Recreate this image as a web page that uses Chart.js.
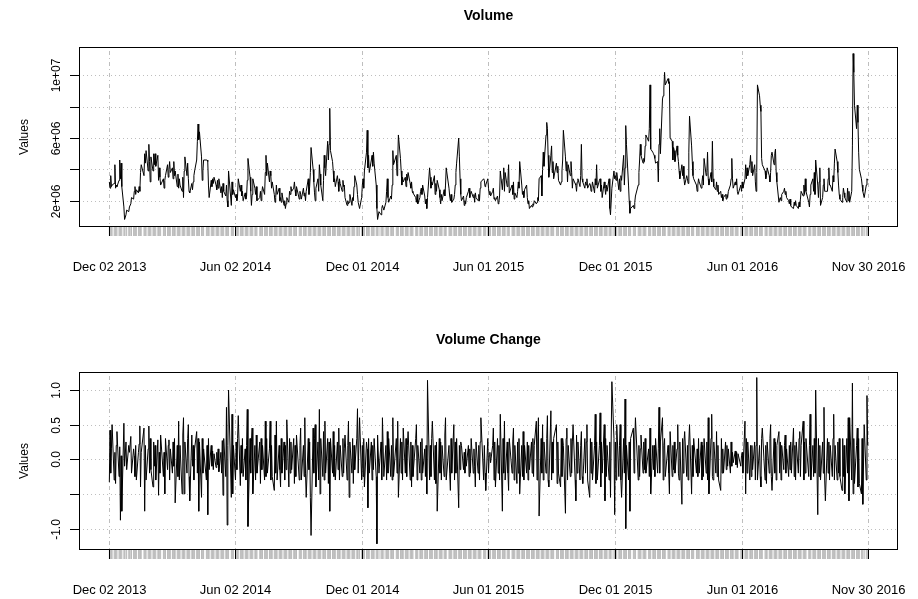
<!DOCTYPE html>
<html><head><meta charset="utf-8">
<script src="https://cdn.jsdelivr.net/npm/chart.js@4.4.0/dist/chart.umd.min.js"></script>
<style>
html,body{margin:0;padding:0;background:#fff;overflow:hidden;width:918px;height:599px}
canvas{display:block;position:absolute;left:0}
#c1{top:0}
#c2{top:300px}
</style></head><body>
<canvas id="c1" width="918" height="300"></canvas>
<canvas id="c2" width="918" height="299"></canvas>
<script>
// ---- data (volume in millions of shares; volume change = daily change) ----
const volume = [
3.2,2.8,3.6,2.9,3.0,3.1,4.3,2.8,3.0,2.9,
3.3,4.6,3.4,4.4,2.9,1.6,0.8,1.1,1.4,1.3,
1.6,1.8,2.2,2.1,2.6,2.9,2.4,2.7,2.5,2.9,
2.6,3.8,4.3,3.6,5.0,4.4,5.2,3.9,5.6,4.5,
3.2,4.8,3.9,5.0,4.3,5.0,4.2,4.9,3.3,4.1,
3.5,3.0,3.4,2.8,3.3,3.6,4.3,3.5,4.0,4.5,
3.8,4.1,3.4,4.5,3.6,3.9,2.9,3.7,2.8,3.4,
3.0,2.6,3.5,2.2,3.9,4.8,3.6,4.4,3.4,2.6,
2.5,3.1,2.7,3.2,3.6,3.9,4.6,5.8,6.9,5.9,
6.4,4.8,3.3,3.9,4.6,4.6,4.6,4.5,3.0,2.2,
3.3,2.9,3.4,3.1,3.5,3.0,2.7,3.3,2.8,3.4,
2.5,2.9,2.2,3.1,2.6,2.3,3.0,2.0,1.6,3.9,
1.7,3.2,2.4,2.7,2.2,2.4,2.0,2.3,3.4,2.6,
3.0,2.3,2.6,2.0,2.5,2.1,2.3,3.3,4.7,3.5,
2.6,1.7,2.4,3.4,2.8,2.4,2.9,2.0,2.2,2.6,
2.0,2.5,2.9,2.4,3.8,4.9,3.6,4.4,3.2,3.9,
3.6,2.8,3.2,2.4,1.9,2.2,3.0,2.4,2.8,2.0,
2.2,1.9,2.5,1.7,2.0,1.5,1.8,2.2,1.9,2.6,
2.4,2.9,2.6,2.8,3.2,2.7,2.3,2.9,2.1,2.6,
2.4,2.1,2.8,2.3,2.5,2.0,2.6,3.4,2.4,2.9,
3.8,5.4,4.0,3.2,2.5,2.0,2.8,3.4,2.6,4.3,
3.7,3.0,2.0,3.3,4.9,4.1,3.6,5.8,4.6,5.6,
7.9,5.2,4.5,3.9,3.2,3.4,2.9,3.6,3.2,2.6,
3.4,3.1,2.6,3.3,2.9,3.0,2.2,1.7,2.0,1.8,
1.9,2.4,1.7,2.2,2.0,2.9,3.6,3.0,2.4,1.9,
1.5,2.2,3.0,3.4,2.8,3.9,5.1,6.5,4.1,4.9,
3.8,4.6,4.9,4.2,5.1,4.4,3.0,1.5,0.8,1.3,
1.1,1.5,1.7,1.4,1.9,2.6,3.4,2.2,1.9,2.3,
2.1,3.0,5.2,4.3,4.9,3.6,4.4,6.2,4.7,3.9,
3.0,3.5,3.2,3.5,2.9,3.7,3.3,3.8,3.1,2.8,
3.2,2.6,2.5,2.2,1.9,2.4,1.8,2.2,2.6,2.8,
2.4,3.0,2.3,1.8,2.1,1.5,2.2,4.1,3.5,2.8,
3.2,3.0,3.6,2.4,3.1,2.6,3.3,2.7,2.2,1.8,
2.4,2.0,2.7,2.3,3.0,4.1,2.8,2.3,2.0,2.4,
1.9,2.1,2.4,3.0,3.8,4.4,6.0,4.8,3.4,2.4,
2.0,2.3,1.7,2.0,1.8,2.2,2.6,2.8,2.2,2.4,
2.6,2.2,2.4,1.9,2.5,2.2,2.0,2.4,2.0,2.8,
3.2,3.4,3.3,2.9,3.0,3.4,2.8,2.4,2.6,2.3,
2.6,2.8,2.1,2.2,2.0,2.3,1.8,1.9,2.3,3.9,
2.7,3.4,4.1,2.6,3.8,2.9,3.3,4.3,2.5,3.0,
2.4,3.2,2.1,2.5,2.2,2.6,3.2,2.8,4.5,3.0,
2.4,2.6,2.2,2.7,3.0,2.2,1.8,2.0,1.5,1.7,
1.6,1.8,1.7,2.0,1.8,1.9,2.2,2.0,3.4,3.6,
2.3,4.0,5.1,4.2,6.2,7.0,6.6,4.9,3.5,4.9,
5.5,3.8,4.5,3.4,4.4,3.8,4.2,3.3,3.0,3.2,
3.9,4.6,6.5,4.8,3.9,4.5,3.2,4.3,3.6,4.5,
3.8,2.8,3.4,3.1,3.0,2.6,3.2,3.4,2.9,3.6,
5.6,3.4,3.2,2.8,3.2,3.0,3.4,2.8,3.1,3.0,
2.6,2.8,3.2,2.5,3.4,3.0,4.3,2.8,3.3,3.4,
2.6,3.0,2.2,3.2,2.8,2.4,3.0,2.6,3.4,1.5,
1.1,2.8,3.9,3.4,3.6,3.3,3.8,2.7,3.4,2.6,
3.6,3.3,4.9,3.0,4.1,6.8,5.6,3.0,2.0,1.2,
1.5,1.7,1.5,1.9,2.3,3.0,3.8,4.6,5.6,4.9,
4.4,4.7,4.5,5.5,6.2,5.8,6.6,9.4,5.3,5.1,
5.0,4.9,4.7,4.4,4.5,3.2,5.6,6.6,5.0,8.5,
8.7,9.2,10.2,9.4,9.8,9.5,9.6,6.0,5.8,4.6,
5.4,5.2,4.5,5.5,4.9,4.5,3.9,3.4,4.3,3.6,
4.2,3.4,3.0,3.6,3.4,3.1,5.1,7.4,5.5,4.5,
3.6,3.4,3.0,2.6,3.0,3.4,3.2,2.8,3.2,3.6,
3.0,4.7,3.6,3.8,5.1,3.4,3.0,3.8,3.2,5.8,
3.4,2.9,2.7,3.2,2.6,3.0,2.4,2.6,2.2,2.4,
2.0,2.2,2.4,2.1,2.4,2.2,2.6,3.0,3.4,4.7,
3.4,2.8,3.2,3.0,3.4,2.6,2.4,3.0,2.6,3.2,
2.8,3.4,4.3,3.4,4.1,3.6,4.3,4.9,3.8,4.5,
3.6,4.3,3.2,2.6,3.8,9.4,8.7,8.1,7.7,4.7,
4.3,3.9,3.4,3.6,4.1,3.6,3.2,3.8,4.9,5.1,
4.3,5.0,5.3,3.8,3.2,1.9,2.1,2.2,2.0,2.4,
2.6,2.8,2.4,2.6,2.2,2.0,1.8,2.1,1.7,1.6,
1.5,1.9,1.7,2.0,1.7,1.5,1.9,1.6,2.1,2.6,
2.3,3.0,2.4,3.4,2.6,1.9,1.6,2.4,3.0,3.4,
2.6,3.8,2.4,4.6,3.0,2.2,3.2,4.1,1.7,2.2,
3.0,3.4,2.6,2.6,2.6,3.4,4.1,3.0,3.0,2.6,
3.6,3.2,4.4,5.3,4.5,3.8,3.0,2.4,2.1,1.9,
2.2,2.8,2.5,2.2,1.9,2.8,2.0,2.6,1.9,2.6,
5.5,11.4,10.2,8.1,6.6,8.1,7.0,5.1,4.0,3.4,
3.0,2.6,2.2,3.0,3.4,3.3
];
const volumeChange = [
-0.33,0.42,-0.2,0.15,0.5,-0.3,0.1,-0.35,0.2,0.4,
-0.25,0.18,-0.88,0.05,-0.75,0.52,-0.1,0.25,-0.15,0.2,
0.1,0.33,-0.2,0.15,0.05,-0.25,0.2,-0.3,0.1,0.22,
0.48,-0.4,0.1,0.45,-0.75,0.2,-0.3,0.15,0.48,-0.2,
0.3,-0.15,-0.4,0.25,-0.1,0.2,-0.3,0.28,-0.52,0.1,
-0.2,0.35,-0.25,0.1,-0.5,0.3,-0.15,0.2,0.28,-0.3,
0.15,-0.2,0.25,-0.1,0.3,-0.63,0.2,-0.25,0.55,-0.3,
0.2,-0.5,0.35,0.6,-0.5,0.25,-0.2,0.3,0.5,-0.25,
-0.6,0.35,-0.1,0.2,-0.3,0.15,0.4,-0.2,0.3,-0.75,
0.25,-0.55,0.3,-0.2,0.15,-0.3,0.2,-0.8,0.3,-0.15,
0.2,-0.1,0.12,-0.15,0.08,-0.12,0.1,-0.08,0.15,-0.18,
0.1,-0.2,0.27,-0.52,0.3,-0.25,0.75,-0.95,0.2,1.0,
-0.55,0.65,-0.5,0.2,-0.3,0.25,-0.15,0.3,0.63,-0.38,
0.2,-0.2,0.3,-0.25,0.15,-0.3,0.2,0.72,-0.97,0.3,
-0.2,0.25,0.45,-0.5,0.2,-0.3,0.35,-0.2,0.25,-0.35,
0.3,-0.15,0.2,-0.3,0.55,-0.25,0.3,-0.2,0.15,0.55,
-0.3,0.2,-0.25,-0.45,0.35,-0.2,0.55,-0.3,0.2,-0.15,
-0.4,0.3,-0.2,0.25,-0.3,0.2,-0.15,0.57,-0.4,0.3,
-0.2,0.25,-0.15,0.3,-0.35,0.2,-0.25,0.35,-0.3,0.2,
0.45,-0.3,0.2,-0.25,0.6,-0.2,-0.55,0.3,-0.15,0.25,
-0.55,-1.1,0.45,-0.2,0.3,0.5,-0.4,0.25,-0.3,0.72,
-0.5,0.3,-0.25,0.4,-0.3,0.55,-0.2,0.3,-0.35,0.25,
-0.75,0.3,-0.2,0.4,-0.25,0.2,-0.3,0.25,-0.15,0.45,
-0.3,0.2,-0.25,0.3,-0.2,0.15,0.35,-0.3,0.2,0.55,
-0.55,0.25,-0.2,0.3,-0.35,0.2,-0.15,0.3,0.73,-0.2,
0.6,-0.3,0.2,-0.25,0.3,-0.4,0.25,0.15,-0.7,0.3,
-0.2,0.25,-0.3,0.2,-0.15,0.3,-0.25,-1.22,0.35,-0.2,
0.25,-0.3,0.6,-0.25,0.2,-0.3,0.4,-0.2,0.3,-0.25,
0.2,-0.3,0.6,-0.25,0.3,-0.2,0.55,-0.55,0.3,-0.2,
0.25,-0.3,0.45,-0.2,0.3,-0.25,0.2,0.4,-0.3,0.25,
-0.4,0.2,-0.25,0.3,0.5,-0.3,0.2,-0.2,0.25,-0.3,
0.3,-0.2,0.15,-0.25,0.2,-0.5,1.14,-0.3,0.2,-0.25,
0.3,0.55,-0.3,0.2,-0.35,0.25,-0.75,0.3,-0.2,0.25,
-0.3,0.2,-0.25,0.35,0.6,-0.3,0.2,-0.2,-0.45,0.3,
-0.2,0.5,-0.3,0.25,-0.2,0.3,-0.7,0.2,-0.15,0.25,
0.2,-0.15,0.1,-0.2,0.15,-0.1,0.2,-0.25,0.15,-0.2,
0.3,-0.2,0.15,-0.1,-0.4,0.25,-0.2,0.2,-0.3,0.25,
0.6,-0.3,0.2,-0.2,-0.45,0.3,-0.2,0.05,0.1,-0.05,
0.2,0.45,-0.3,0.25,-0.4,0.3,-0.2,0.2,-0.3,0.65,
-0.75,0.3,-0.2,0.55,-0.3,0.25,-0.2,-0.45,0.3,-0.2,
0.25,0.45,-0.3,0.2,-0.35,0.25,-0.2,0.3,-0.5,0.2,
-0.25,0.4,-0.3,0.2,-0.2,0.25,-0.3,0.2,-0.15,0.25,
-0.2,0.3,-0.25,0.2,0.55,-0.3,0.25,0.6,-0.82,0.3,
-0.2,0.5,-0.3,0.25,-0.2,0.3,0.63,-0.3,-0.4,0.7,
-0.3,0.25,-0.2,0.3,0.5,-0.35,0.25,-0.2,-0.4,0.3,
-0.25,0.3,0.2,-0.78,0.3,0.45,-0.3,0.2,-0.25,0.3,
-0.2,0.25,0.5,-0.3,-0.6,0.35,-0.2,0.25,-0.3,0.2,
0.4,-0.25,-0.35,0.3,-0.2,0.25,0.5,-0.3,-0.55,0.3,
-0.2,0.25,-0.3,0.2,0.65,-0.35,0.25,-0.3,0.2,0.67,
-0.4,0.25,-0.2,0.5,-0.6,0.3,-0.25,0.2,-0.3,0.25,
-0.55,1.12,0.3,-0.8,0.25,-0.3,0.5,-0.25,0.2,0.5,
-0.3,-0.55,0.3,-0.2,0.87,-1.0,0.2,-0.3,0.25,-0.75,
0.3,0.45,-0.2,0.25,0.6,-0.3,0.2,-0.25,0.15,0.35,
-0.2,0.25,-0.15,0.3,-0.2,0.15,-0.25,0.45,-0.5,0.2,
-0.15,0.2,-0.25,0.3,-0.2,0.15,0.75,-0.2,0.25,0.6,
-0.3,0.2,0.3,-0.25,0.2,-0.2,-0.5,0.4,-0.25,0.2,
-0.15,0.25,-0.2,0.15,0.5,-0.2,-0.3,0.25,-0.65,0.3,
-0.2,0.25,0.4,-0.25,0.2,-0.3,0.25,0.5,-0.5,0.2,
-0.25,0.3,-0.2,0.15,-0.25,0.3,-0.2,0.25,-0.3,0.2,
-0.25,0.3,-0.2,0.25,-0.3,0.6,-0.5,0.3,0.65,-0.25,
-0.3,0.25,-0.2,0.4,-0.25,0.2,-0.3,-0.45,0.3,-0.2,
0.15,-0.2,0.25,-0.15,0.2,-0.1,0.15,-0.2,0.25,-0.1,
0.1,-0.05,0.12,-0.08,0.1,-0.12,0.08,-0.1,0.05,0.1,
-0.2,0.55,-0.5,0.3,-0.2,0.25,-0.3,0.2,-0.25,0.2,
-0.15,0.25,-0.3,0.2,1.18,-0.3,0.2,-0.25,-0.4,0.3,
0.45,-0.3,0.2,-0.35,0.25,-0.2,0.3,0.5,-0.25,-0.45,
0.3,-0.2,0.25,-0.3,0.2,0.4,-0.2,0.25,-0.3,0.2,
-0.15,0.2,0.35,-0.2,0.15,-0.25,0.2,-0.15,0.25,-0.2,
0.45,-0.25,0.2,-0.3,0.25,-0.2,0.3,0.4,-0.25,0.2,
0.55,-0.3,0.25,-0.2,0.3,-0.25,0.2,0.65,-0.3,0.2,
-0.25,0.3,-0.2,1.0,-0.8,0.3,-0.25,0.2,-0.3,0.25,
-0.2,0.75,-0.3,-0.6,0.3,-0.2,0.25,-0.3,0.2,-0.25,
0.3,0.65,-0.3,0.2,-0.3,0.25,-0.2,0.3,-0.25,-0.45,
0.3,-0.25,0.2,-0.5,0.3,-0.2,0.6,-0.6,0.6,-0.3,
1.1,-0.5,0.3,-0.35,0.2,0.45,-0.4,0.3,-0.35,-0.5,
0.3,-0.65,0.5,-0.3,0.92,0.2
];
// trading calendar: weekdays between the first and last date, minus exchange holidays
const firstDate = "2013-12-02";
const lastDate = "2016-11-30";
const holidays = ["2013-12-25","2014-01-01","2014-01-20","2014-02-17","2014-04-18","2014-05-26","2014-07-04","2014-09-01","2014-11-27","2014-12-25","2015-01-01","2015-01-19","2015-02-16","2015-04-03","2015-05-25","2015-07-03","2015-09-07","2015-11-26","2015-12-25","2016-01-01","2016-01-18","2016-02-15","2016-03-25","2016-05-30","2016-07-04","2016-09-05","2016-11-24"];
const xTickDates = ["2013-12-02","2014-06-02","2014-12-01","2015-06-01","2015-12-01","2016-06-01","2016-11-30"];
const xTickLabels = ["Dec 02 2013","Jun 02 2014","Dec 01 2014","Jun 01 2015","Dec 01 2015","Jun 01 2016","Nov 30 2016"];
const volTicks = [2,4,6,8,10];
const volTickLabels = ["2e+06","","6e+06","","1e+07"];
const chgTicks = [-1,-0.5,0,0.5,1];
const chgTickLabels = ["-1.0","","0.0","0.5","1.0"];

// ---- build the day index ----
const DAY = 86400000;
const toT = s => Date.UTC(+s.slice(0,4), +s.slice(5,7)-1, +s.slice(8,10));
const t0 = toT(firstDate), t1 = toT(lastDate);
const obsDays = [];
for (let t = t0; t <= t1; t += DAY) {
  const d = new Date(t), wd = d.getUTCDay(), iso = d.toISOString().slice(0,10);
  if (wd > 0 && wd < 6 && !holidays.includes(iso)) obsDays.push((t - t0) / DAY);
}
const span = (t1 - t0) / DAY;
const majorDays = xTickDates.map(s => (toT(s) - t0) / DAY);
const FONT = '"Liberation Sans", Arial, Helvetica, sans-serif';

function rPlot(canvasId, series, yMin, yMax, yTicks, yLabels, title, padTop, padBottom, titleBase) {
  const n = Math.min(series.length, obsDays.length);
  const pts = [];
  for (let i = 0; i < n; i++) pts.push({x: obsDays[i], y: series[i]});
  const plugin = {
    id: 'rAxes_' + canvasId,
    beforeDatasetsDraw(chart) {
      const {ctx, chartArea: a, scales: {x, y}} = chart;
      ctx.save();
      ctx.strokeStyle = '#BEBEBE'; ctx.lineWidth = 1;
      ctx.setLineDash([1, 3]);
      yTicks.forEach(v => {
        const py = Math.round(y.getPixelForValue(v)) + 0.5;
        ctx.beginPath(); ctx.moveTo(a.left, py); ctx.lineTo(a.right, py); ctx.stroke();
      });
      ctx.setLineDash([1, 3, 4, 3]);
      majorDays.forEach(d => {
        const px = Math.round(x.getPixelForValue(d)) + 0.5;
        ctx.beginPath(); ctx.moveTo(px, a.top); ctx.lineTo(px, a.bottom); ctx.stroke();
      });
      ctx.restore();
    },
    afterDatasetsDraw(chart) {
      const {ctx, chartArea: a, scales: {x, y}} = chart;
      ctx.save();
      ctx.setLineDash([]);
      // minor ticks: one per observation
      ctx.strokeStyle = '#BBBBBB'; ctx.lineWidth = 1;
      ctx.beginPath();
      for (let i = 0; i < n; i++) {
        const px = x.getPixelForValue(obsDays[i]);
        ctx.moveTo(px, a.bottom); ctx.lineTo(px, a.bottom + 9);
      }
      ctx.stroke();
      // box
      ctx.strokeStyle = '#000'; ctx.lineWidth = 1;
      ctx.strokeRect(a.left + 0.5, a.top + 0.5, a.right - a.left - 1, a.bottom - a.top - 1);
      // major ticks + labels
      ctx.fillStyle = '#000';
      ctx.font = '13px ' + FONT;
      ctx.textAlign = 'center'; ctx.textBaseline = 'alphabetic';
      majorDays.forEach((d, k) => {
        const px = Math.round(x.getPixelForValue(d)) + 0.5;
        ctx.beginPath(); ctx.moveTo(px, a.bottom - 0.5); ctx.lineTo(px, a.bottom + 9); ctx.stroke();
        ctx.fillText(xTickLabels[k], px, a.bottom + 44);
      });
      // y ticks + rotated labels
      ctx.font = '12px ' + FONT;
      yTicks.forEach((v, k) => {
        const py = Math.round(y.getPixelForValue(v)) + 0.5;
        ctx.beginPath(); ctx.moveTo(a.left - 9, py); ctx.lineTo(a.left, py); ctx.stroke();
        if (yLabels[k]) {
          ctx.save(); ctx.translate(60, py); ctx.rotate(-Math.PI / 2);
          ctx.textAlign = 'center'; ctx.textBaseline = 'alphabetic';
          ctx.fillText(yLabels[k], 0, 0); ctx.restore();
        }
      });
      // axis title
      ctx.save(); ctx.translate(28, (a.top + a.bottom) / 2); ctx.rotate(-Math.PI / 2);
      ctx.textAlign = 'center'; ctx.textBaseline = 'alphabetic';
      ctx.font = '12px ' + FONT;
      ctx.fillText('Values', 0, 0); ctx.restore();
      // main title
      ctx.font = 'bold 14px ' + FONT;
      ctx.textAlign = 'center';
      ctx.fillText(title, (a.left + a.right) / 2, titleBase);
      ctx.restore();
    }
  };
  return new Chart(document.getElementById(canvasId), {
    type: 'line',
    data: {datasets: [{data: pts, borderColor: '#000', borderWidth: 1, pointRadius: 0, tension: 0, fill: false}]},
    options: {
      responsive: false, animation: false, devicePixelRatio: 1,
      layout: {padding: {left: 79, right: 20, top: padTop, bottom: padBottom}},
      plugins: {legend: {display: false}, tooltip: {enabled: false}, title: {display: false}},
      scales: {
        x: {type: 'linear', display: false, min: -0.04 * span, max: span * 1.04},
        y: {type: 'linear', display: false, min: yMin, max: yMax}
      }
    },
    plugins: [plugin]
  });
}

rPlot('c1', volume, 0.32, 11.82, volTicks, volTickLabels, 'Volume', 47, 73, 20);
rPlot('c2', volumeChange, -1.31, 1.26, chgTicks, chgTickLabels, 'Volume Change', 72, 49, 44);
</script>
</body></html>
